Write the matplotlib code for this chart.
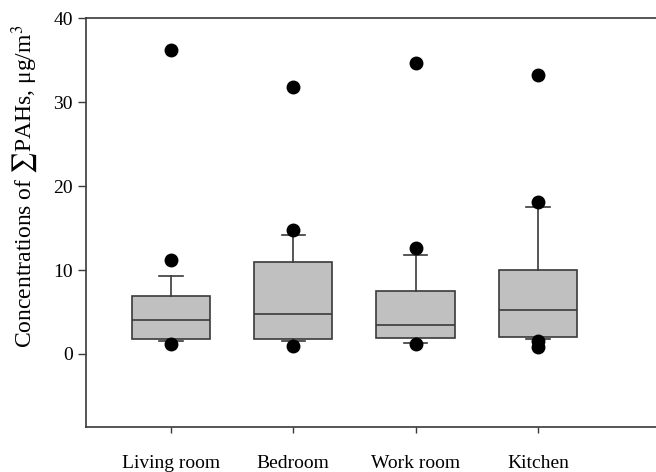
import matplotlib
matplotlib.use("Agg")
import matplotlib.pyplot as plt

# values
rooms = ['Living room', 'Bedroom', 'Work room', 'Kitchen']
q1 = [1.75, 1.75, 1.95, 2.0]
medians = [4.1, 4.75, 3.5, 5.25]
q3 = [6.9, 10.95, 7.45, 9.95]
whisk_lo = [1.5, 1.5, 1.35, 1.75]
whisk_hi = [9.35, 14.2, 11.75, 17.5]
outliers = [
    [1.2, 11.2, 36.2],
    [0.9, 14.8, 31.8],
    [1.2, 12.6, 34.7],
    [0.8, 1.5, 18.1, 33.25],
]

plt.rcParams['font.family'] = ['Liberation Serif', 'DejaVu Serif']
plt.rcParams['mathtext.fontset'] = 'stix'

stats = []
for i, name in enumerate(rooms):
    stats.append({
        'label': name,
        'q1': q1[i], 'med': medians[i], 'q3': q3[i],
        'whislo': whisk_lo[i], 'whishi': whisk_hi[i],
        'fliers': outliers[i],
    })

fig = plt.figure(figsize=(6.56, 4.72), dpi=100)
ax = fig.add_axes([0.131, 0.0953, 0.869, 0.866])

line_col = '#3a3a3a'
ax.bxp(stats, positions=[1, 2, 3, 4], widths=0.64, patch_artist=True,
       boxprops=dict(facecolor='#c0c0c0', edgecolor=line_col, linewidth=1.2),
       medianprops=dict(color=line_col, linewidth=1.2),
       whiskerprops=dict(color=line_col, linewidth=1.2),
       capprops=dict(color=line_col, linewidth=1.2),
       capwidths=0.19,
       flierprops=dict(marker='o', markerfacecolor='black', markeredgecolor='black',
                       markersize=9))

ax.set_xlim(0.305, 4.965)
ax.set_ylim(-8.7, 40)
ax.set_yticks([0, 10, 20, 30, 40])
ax.set_xticks([1, 2, 3, 4])
ax.set_xticklabels(rooms)
ax.tick_params(axis='y', direction='out', length=6, width=1, labelsize=14, color=line_col)
ax.tick_params(axis='x', direction='out', length=4, width=1, pad=16, labelsize=14, color=line_col)
ax.set_ylabel('Concentrations of $\\sum$PAHs, μg/m$^3$', fontsize=17)
ax.yaxis.set_label_coords(-0.08, 0.59)

for s in ['left', 'bottom', 'top']:
    ax.spines[s].set_color(line_col)
    ax.spines[s].set_linewidth(1.2)
ax.spines['right'].set_visible(False)

fig.savefig('out.png', dpi=100)
